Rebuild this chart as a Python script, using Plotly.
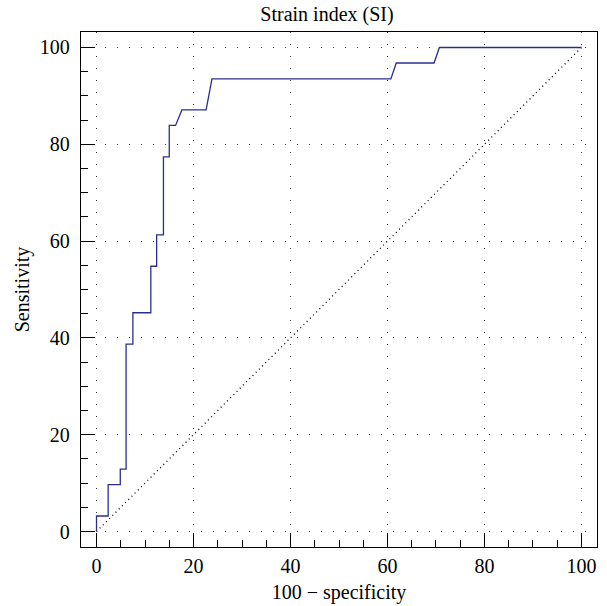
import plotly.graph_objects as go

# ROC curve data (100 - specificity, sensitivity)
fpr = [0, 0, 2.4, 2.4, 4.9, 4.9, 6.1, 6.1, 7.5, 7.5, 11.2, 11.2, 12.4, 12.4,
       13.8, 13.8, 15.0, 15.0, 16.3, 17.6, 22.6, 23.8, 60.7, 61.8, 69.6, 70.7, 100]
tpr = [0, 3.2, 3.2, 9.7, 9.7, 12.9, 12.9, 38.7, 38.7, 45.2, 45.2, 54.8, 54.8, 61.3,
       61.3, 77.4, 77.4, 83.9, 83.9, 87.1, 87.1, 93.5, 93.5, 96.8, 96.8, 100, 100]
diag_x = [0, 100]
diag_y = [0, 100]
tick_vals = [0, 20, 40, 60, 80, 100]
tick_text = ["0", "20", "40", "60", "80", "100"]

FONT = "Liberation Serif"
FS = 20

fig = go.Figure()
fig.add_trace(go.Scatter(x=diag_x, y=diag_y, mode="lines",
                         line=dict(color="black", width=1.3, dash="1px,3.5px"),
                         hoverinfo="skip", showlegend=False))
fig.add_trace(go.Scatter(x=fpr, y=tpr, mode="lines",
                         line=dict(color="#2b2e8f", width=1.3),
                         showlegend=False))

axis_common = dict(
    range=[-3.2, 103.2],
    tickmode="array", tickvals=tick_vals, ticktext=tick_text,
    ticks="inside", ticklen=14, tickwidth=1.3, tickcolor="black",
    minor=dict(dtick=5, tick0=0, ticks="inside", ticklen=7, tickwidth=1.1, tickcolor="black", showgrid=False),
    showline=True, linecolor="black", linewidth=1.3, mirror=True,
    showgrid=True, gridcolor="#333333", gridwidth=1, griddash="1px,11px",
    zeroline=False,
    tickfont=dict(family=FONT, size=FS, color="black"),
    fixedrange=True,
    automargin=False,
)

fig.update_layout(
    width=607, height=606,
    margin=dict(l=81, r=10, t=32, b=59),
    paper_bgcolor="white", plot_bgcolor="white",
    title=dict(text="Strain index (SI)", x=327 / 607, xref="container", xanchor="center",
               y=1 - 14 / 606, yref="container", yanchor="middle",
               font=dict(family=FONT, size=FS, color="black")),
    xaxis=dict(axis_common, ticklabelstandoff=1,
               title=dict(text="100 − specificity", standoff=8,
                          font=dict(family=FONT, size=FS, color="black"))),
    yaxis=dict(axis_common, ticklabelstandoff=6,
               title=dict(text="Sensitivity", standoff=4,
                          font=dict(family=FONT, size=FS, color="black"))),
)

fig.write_html("out.html", config={"displayModeBar": False},
               post_script="document.body.style.margin='0';document.body.style.overflow='hidden';")
